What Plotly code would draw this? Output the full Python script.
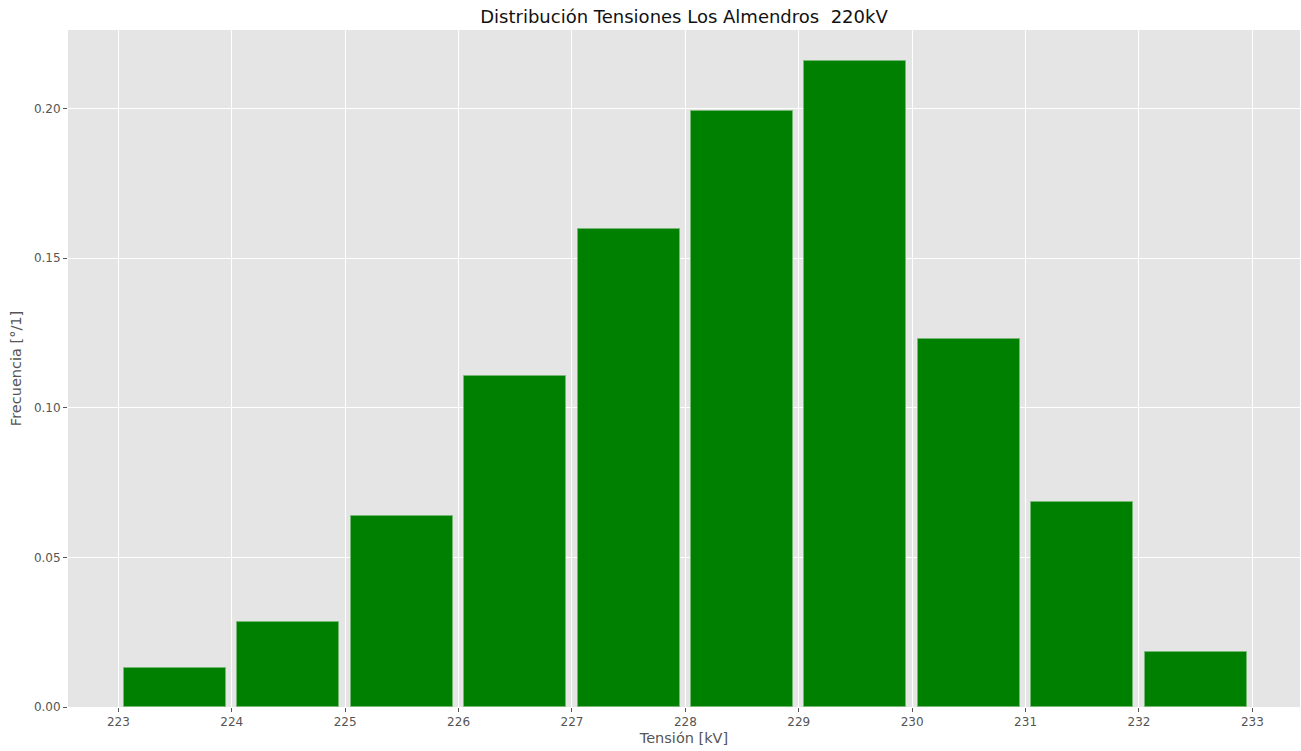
import plotly.graph_objects as go

# histogram bins (1 kV wide) and relative frequencies
bin_left = [223, 224, 225, 226, 227, 228, 229, 230, 231, 232]
frecuencia = [0.0130, 0.0284, 0.0638, 0.1107, 0.1596, 0.1993, 0.2157, 0.1231, 0.0686, 0.0184]
y_ticks = [0.00, 0.05, 0.10, 0.15, 0.20]
x_ticks = list(range(223, 234))

centros = [b + 0.5 for b in bin_left]

fig = go.Figure()
fig.add_trace(go.Bar(
    x=centros,
    y=frecuencia,
    width=0.9,
    marker=dict(color="#008000", line=dict(color="rgba(120,185,120,0.8)", width=1)),
    showlegend=False,
))

axis_font = dict(family="DejaVu Sans", size=12, color="#555555")

fig.update_layout(
    width=1301,
    height=751,
    margin=dict(l=68, r=1, t=30, b=44),
    paper_bgcolor="white",
    plot_bgcolor="#E5E5E5",
    font=dict(family="DejaVu Sans"),
    title=dict(
        text="Distribución Tensiones Los Almendros  220kV",
        x=(68 + 1300) / 2 / 1301,
        xanchor="center",
        y=1 - 17 / 751,
        yanchor="middle",
        font=dict(family="DejaVu Sans", size=18, color="#111111"),
    ),
    bargap=0,
)

fig.update_xaxes(
    range=[222.556, 233.42],
    tickvals=x_ticks,
    ticks="outside",
    ticklen=4,
    tickcolor="#555555",
    tickfont=axis_font,
    showgrid=True,
    gridcolor="white",
    gridwidth=1.2,
    zeroline=False,
    showline=False,
    title=dict(text="Tensión [kV]", font=dict(family="DejaVu Sans", size=14.5, color="#555555"), standoff=4),
)

fig.update_yaxes(
    range=[0, 0.2262],
    tickvals=y_ticks,
    tickformat=".2f",
    ticks="outside",
    ticklen=4,
    tickcolor="#555555",
    tickfont=axis_font,
    showgrid=True,
    gridcolor="white",
    gridwidth=1.2,
    zeroline=False,
    showline=False,
    title=dict(text="Frecuencia [°/1]", font=dict(family="DejaVu Sans", size=14.5, color="#555555"), standoff=8),
)

# drop the default page margin so the figure fills the window exactly
fig.write_html(
    "out.html",
    config={"displayModeBar": False},
    post_script="document.body.style.margin='0';document.body.style.overflow='hidden';",
)
